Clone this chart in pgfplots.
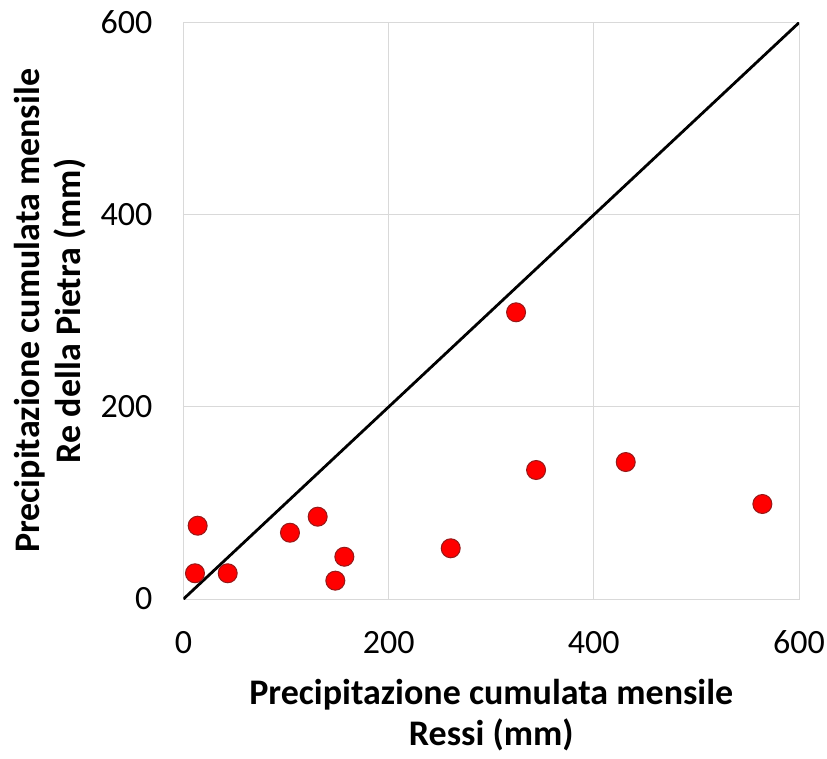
\documentclass[border=0pt]{standalone}
\usepackage{fontspec}
\setmainfont{Carlito}
\usepackage{pgfplots}
\pgfplotsset{compat=1.18}
\definecolor{gridgray}{RGB}{217,217,217}
\definecolor{ptred}{RGB}{255,0,0}
\definecolor{ptedge}{RGB}{150,25,25}

\begin{document}
\fontsize{36}{41}\selectfont
\begin{tikzpicture}
\begin{axis}[name=ax,
  width=615.5pt, height=576.3pt, scale only axis,
  xmin=0, xmax=600, ymin=0, ymax=600,
  xtick={0,200,400,600}, ytick={0,200,400,600},
  grid=major, major grid style={gridgray, line width=1pt},
  axis line style={gridgray, line width=1pt},
  major tick length=0pt,
  /pgf/number format/assume math mode=true,
  tick label style={font=\fontsize{34}{40}\selectfont, inner sep=0pt},
  xticklabel style={anchor=base, yshift=-54pt},
  yticklabel style={anchor=base east, xshift=-31pt, yshift=-10.7pt},
  xlabel={Precipitazione cumulata mensile\\Ressi (mm)},
  ylabel={Precipitazione cumulata mensile\\Re della Pietra (mm)},
  label style={font=\bfseries\fontsize{36}{41}\selectfont, align=center, inner sep=0pt},
  xlabel style={at={(axis description cs:0.5,-0.1397)}, anchor=north},
  ylabel style={at={(axis description cs:-0.1584,0.5)}, anchor=south},
]
% monthly cumulative precipitation: Ressi vs Re della Pietra
\addplot[only marks, mark=*, mark size=9.5pt,
  mark options={fill=ptred, draw=ptedge, line width=1pt}] coordinates {
  (13.8,76.3) (11.2,26.8) (43.1,26.8) (103.8,69.0) (130.8,85.7)
  (156.8,44.0) (148.0,19.1) (260.5,52.8) (324.2,298.5)
  (343.7,134.3) (431.1,142.6) (564.3,98.9)};
% 1:1 line
\addplot[black, line width=2.8pt] coordinates {(0,0) (600,600)};
\end{axis}
\pgfresetboundingbox
\path[use as bounding box] ([shift={(-183.5pt,-159pt)}]ax.south west) rectangle ([shift={(28pt,22.7pt)}]ax.north east);
\end{tikzpicture}
\end{document}
